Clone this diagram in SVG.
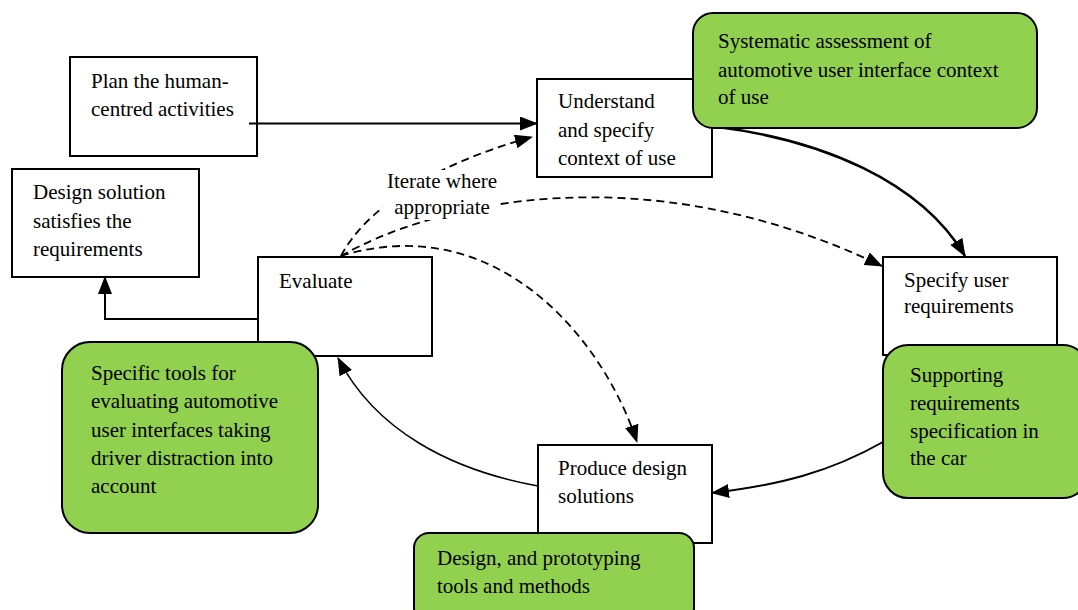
<svg xmlns="http://www.w3.org/2000/svg" width="1078" height="610" viewBox="0 0 1078 610">
<style>
text{font-family:"Liberation Serif","Times New Roman",serif;font-size:21px;fill:#000}
.box{fill:#fff;stroke:#000;stroke-width:2}
.green{fill:#92D050;stroke:#000;stroke-width:2}
.ln{fill:none;stroke:#000;stroke-width:2}
.dash{fill:none;stroke:#000;stroke-width:1.8;stroke-dasharray:8 5}
</style>
<defs>
<marker id="ah" markerUnits="userSpaceOnUse" markerWidth="18" markerHeight="14" viewBox="0 0 18 14" refX="17" refY="7" orient="auto">
<path d="M0,0 L18,7 L0,14 z" fill="#000"/>
</marker>
</defs>
<rect width="1078" height="610" fill="#fff"/>

<g id="plan"><rect class="box" x="70" y="57" width="187" height="99"/>
<text x="91" y="88">Plan the human-</text><text x="91" y="116">centred activities</text></g>

<g id="understand"><rect class="box" x="537" y="79" width="175" height="98"/>
<text x="558" y="108">Understand</text><text x="558" y="137">and specify</text><text x="558" y="165">context of use</text></g>

<g id="design-solution"><rect class="box" x="12" y="169" width="187" height="108"/>
<text x="33" y="199">Design solution</text><text x="33" y="228">satisfies the</text><text x="33" y="256">requirements</text></g>

<g id="evaluate"><rect class="box" x="258" y="257" width="174" height="99"/>
<text x="279" y="288">Evaluate</text></g>

<g id="specify"><rect class="box" x="883" y="257" width="174" height="98"/>
<text x="904" y="287">Specify user</text><text x="904" y="313">requirements</text></g>

<g id="produce"><rect class="box" x="538" y="445" width="174" height="98"/>
<text x="558" y="475">Produce design</text><text x="558" y="503">solutions</text></g>

<g id="connectors">
<path class="ln" d="M249,123.5 L537,123.5" marker-end="url(#ah)"/>
<path class="ln" d="M258,319 L105,319 L105,277" marker-end="url(#ah)"/>
<path class="ln" style="stroke-width:2.6" d="M718,127 C820,140 920,180 965,256" marker-end="url(#ah)"/>
<path class="ln" d="M883,442 C830,472 780,485 712,493" marker-end="url(#ah)"/>
<path class="ln" style="stroke-width:1.6" d="M538,486 C450,470 375,430 338,358" marker-end="url(#ah)"/>
<path class="dash" d="M341,256 C365,210 430,165 532,137" marker-end="url(#ah)"/>
<path class="dash" d="M341,256 C430,205 640,150 882,266" marker-end="url(#ah)"/>
<path class="dash" d="M341,256 C490,210 600,330 637,442" marker-end="url(#ah)"/>
</g>

<g id="label-iterate">
<rect x="383" y="170" width="116" height="50" fill="#fff"/>
<text x="442" y="188" text-anchor="middle">Iterate where</text>
<text x="442" y="214" text-anchor="middle">appropriate</text>
</g>

<g id="green-context"><rect class="green" x="693" y="13" width="344" height="115" rx="20"/>
<text x="718" y="48">Systematic assessment of</text><text x="718" y="77">automotive user interface context</text><text x="718" y="104">of use</text></g>

<g id="green-evaluate"><rect class="green" x="62" y="342" width="256" height="191" rx="28"/>
<text x="91" y="380">Specific tools for</text><text x="91" y="408">evaluating automotive</text><text x="91" y="437">user interfaces taking</text><text x="91" y="465">driver distraction into</text><text x="91" y="493">account</text></g>

<g id="green-requirements"><rect class="green" x="883" y="345" width="205" height="153" rx="25"/>
<text x="910" y="382">Supporting</text><text x="910" y="410">requirements</text><text x="910" y="438">specification in</text><text x="910" y="465">the car</text></g>

<g id="green-design"><rect class="green" x="414" y="533" width="280" height="90" rx="15"/>
<text x="437" y="565">Design, and prototyping</text><text x="437" y="593">tools and methods</text></g>
</svg>
